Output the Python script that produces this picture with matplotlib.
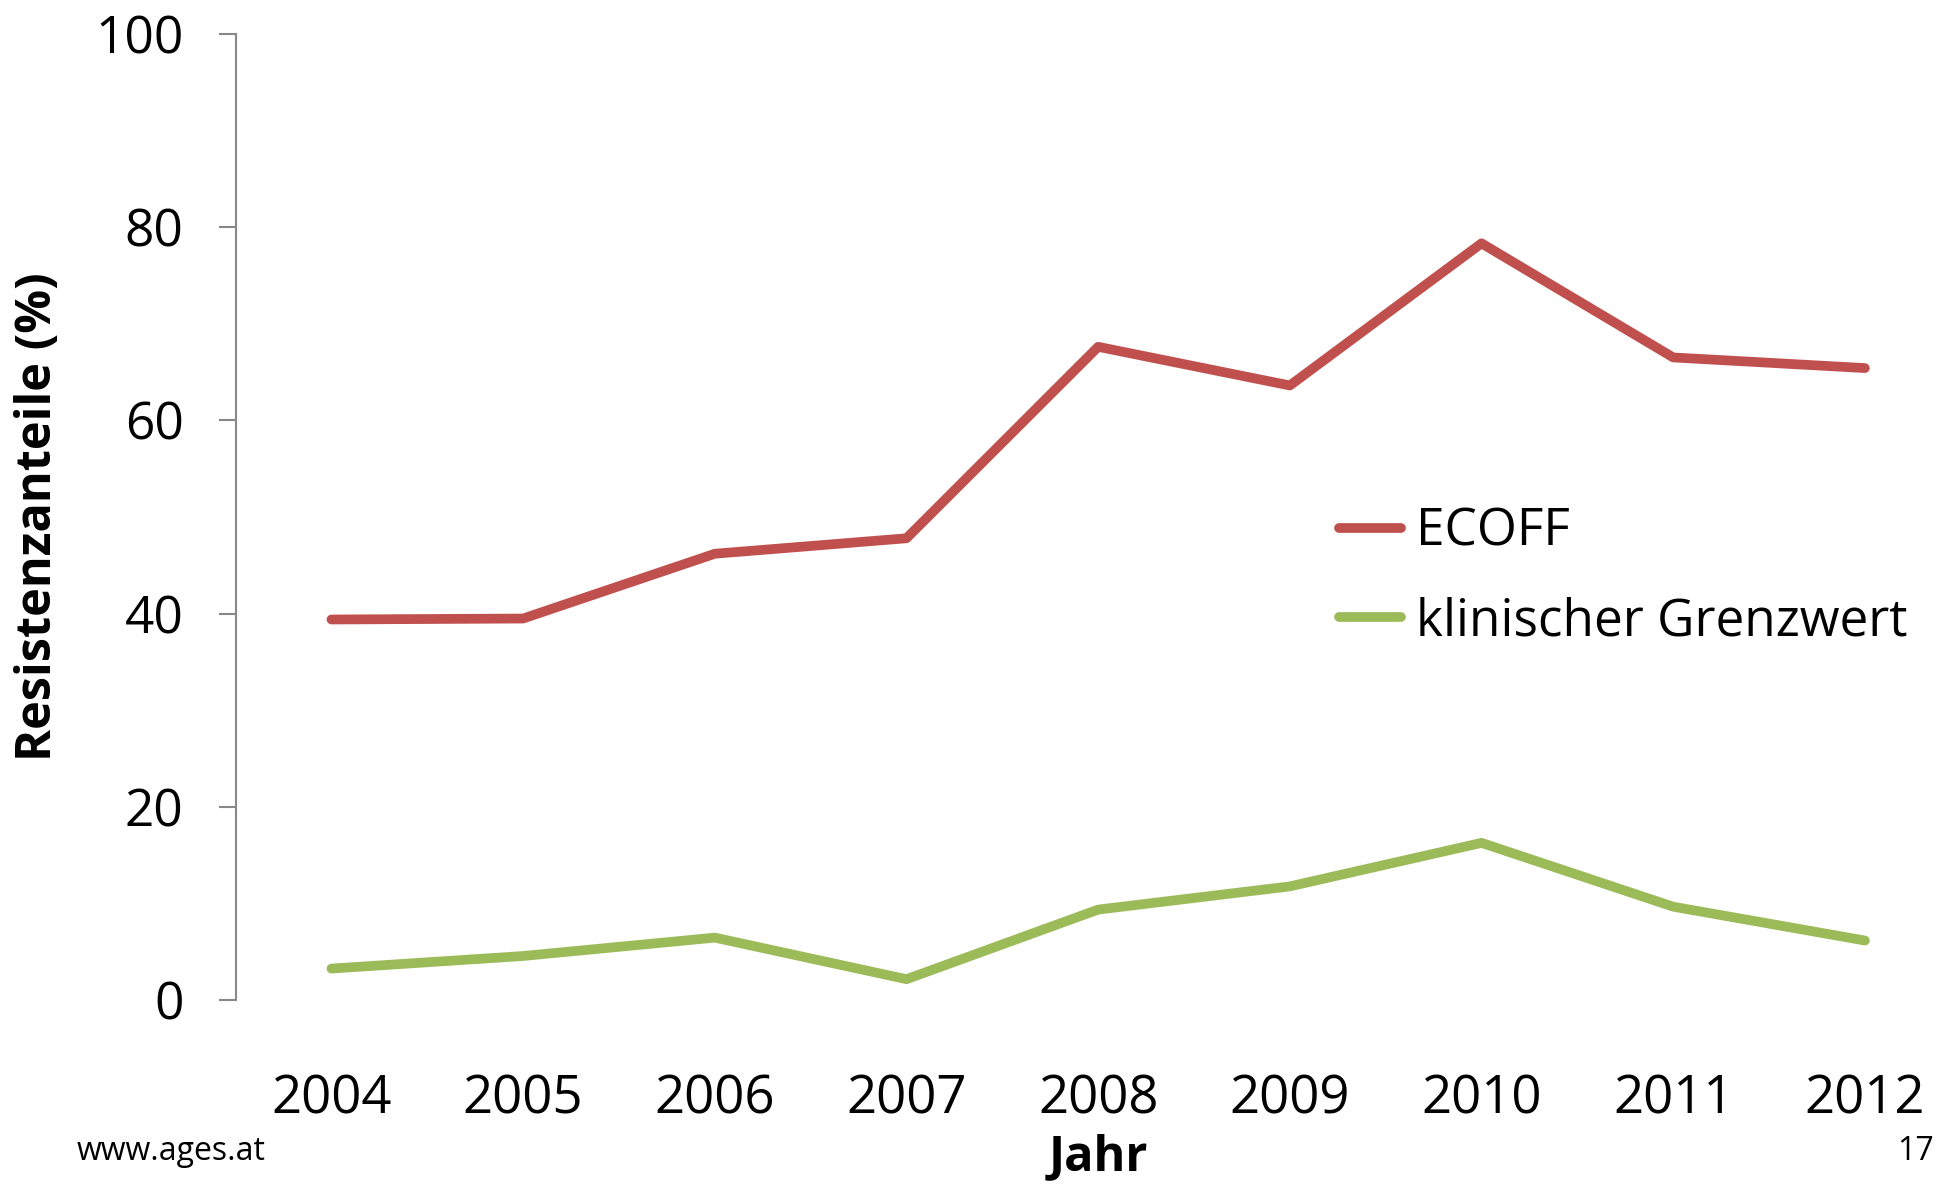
import matplotlib
matplotlib.use("Agg")
import matplotlib.pyplot as plt

# Werte
jahre = ["2004", "2005", "2006", "2007", "2008", "2009", "2010", "2011", "2012"]
ecoff = [39.4, 39.5, 46.2, 47.8, 67.6, 63.6, 78.3, 66.5, 65.4]
klinisch = [3.3, 4.6, 6.5, 2.2, 9.4, 11.8, 16.3, 9.7, 6.2]
yticks = [0, 20, 40, 60, 80, 100]

plt.rcParams["font.family"] = ["Open Sans", "DejaVu Sans"]

fig = plt.figure(figsize=(19.44, 11.84), dpi=100)
ax = fig.add_axes([0.1212, 0.155, 0.8874, 0.8167])

x = range(len(jahre))
ax.plot(x, ecoff, color="#C0504D", linewidth=7, solid_capstyle="round",
        solid_joinstyle="round", label="ECOFF")
ax.plot(x, klinisch, color="#9BBB59", linewidth=7, solid_capstyle="round",
        solid_joinstyle="round", label="klinischer Grenzwert")

ax.set_xlim(-0.5, len(jahre) - 0.5)
ax.set_ylim(0, 100)
ax.set_xticks(list(x))
ax.set_xticklabels(jahre)
ax.set_yticks(yticks)

for side in ("top", "right", "bottom"):
    ax.spines[side].set_visible(False)
ax.spines["left"].set_color("#888888")
ax.spines["left"].set_linewidth(1.5)
ax.tick_params(axis="y", length=12.5, width=1.5, color="#888888",
               labelsize=37, pad=25)
ax.tick_params(axis="x", length=0, labelsize=38, pad=52)

ax.set_ylabel("Resistenzanteile (%)", fontsize=35, fontweight="bold")
ax.yaxis.set_label_coords(-0.100, 0.5)
ax.set_xlabel("Jahr", fontsize=35, fontweight="bold")
ax.xaxis.set_label_coords(0.5, -0.137)

ax.legend(loc="upper left", bbox_to_anchor=(0.689, 0.572),
          bbox_transform=fig.transFigure, frameon=False, fontsize=37,
          borderaxespad=0, borderpad=0, handlelength=1.2,
          handletextpad=0.3, labelspacing=0.75)

fig.text(0.0395, 0.02, "www.ages.at", fontsize=23)
fig.text(0.995, 0.02, "17", fontsize=23, ha="right")

fig.savefig("out.png", dpi=100)
plt.close(fig)
